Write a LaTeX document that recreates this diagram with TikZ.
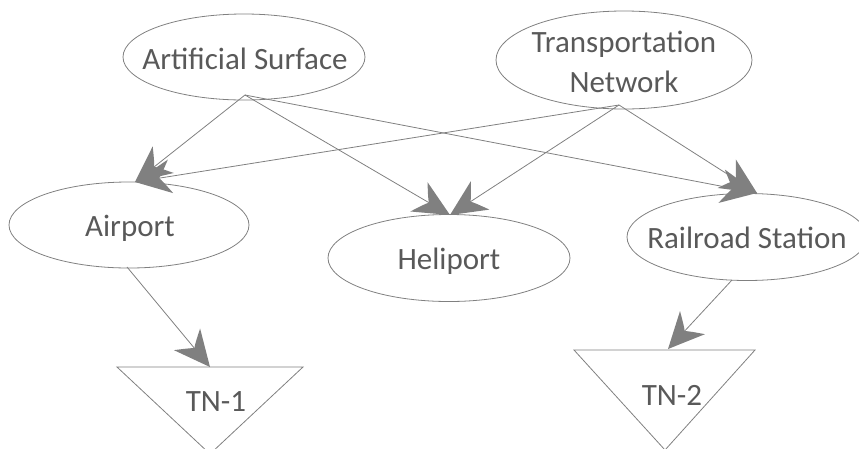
\documentclass[tikz,border=0pt]{standalone}
\usepackage{fontspec}
\setmainfont{Carlito}
\usetikzlibrary{arrows.meta,shapes.geometric}

% Filled arrow head with a concave, swept-back rear edge
\pgfdeclarearrow{
  name = Swept,
  parameters = {\the\pgfarrowlength,\the\pgfarrowwidth},
  setup code = {
    \pgfarrowssettipend{0pt}
    \pgfarrowssetlineend{-0.6\pgfarrowlength}
    \pgfarrowssetbackend{-\pgfarrowlength}
    \pgfarrowssetvisualbackend{-0.6\pgfarrowlength}
    \pgfarrowssavethe\pgfarrowlength
    \pgfarrowssavethe\pgfarrowwidth
  },
  drawing code = {
    \pgfpathmoveto{\pgfqpoint{0pt}{0pt}}
    \pgfpathlineto{\pgfqpoint{-\pgfarrowlength}{0.5\pgfarrowwidth}}
    \pgfpathcurveto{\pgfqpoint{-0.85\pgfarrowlength}{0.25\pgfarrowwidth}}{\pgfqpoint{-0.75\pgfarrowlength}{0.08\pgfarrowwidth}}{\pgfqpoint{-0.68\pgfarrowlength}{0pt}}
    \pgfpathcurveto{\pgfqpoint{-0.75\pgfarrowlength}{-0.08\pgfarrowwidth}}{\pgfqpoint{-0.85\pgfarrowlength}{-0.25\pgfarrowwidth}}{\pgfqpoint{-\pgfarrowlength}{-0.5\pgfarrowwidth}}
    \pgfpathclose
    \pgfusepathqfill
  },
  defaults = {length = 36pt, width = 34pt}
}

\definecolor{edgegray}{HTML}{808080}
\definecolor{textgray}{HTML}{595959}

\tikzset{
  concept/.style={ellipse, draw=edgegray, line width=0.8pt, inner sep=0pt},
  conceptlabel/.style={text=textgray, font=\fontsize{31}{40}\selectfont,
    align=center, inner sep=0pt},
  link/.style={draw=edgegray, line width=0.8pt, -{Swept[fill=edgegray]}},
  tri/.style={draw=edgegray, line width=0.8pt},
  trilabel/.style={text=textgray, font=\fontsize{31}{40}\selectfont, inner sep=0pt}
}

\begin{document}
\begin{tikzpicture}[x=1pt, y=-1pt]
\useasboundingbox (0,0) rectangle (859,448);
\clip (0,0) rectangle (859,448);

% concept ellipses, labels placed independently of the outline size
\node[concept, minimum width=242pt, minimum height=86pt] (as) at (244,57) {};
\node[conceptlabel] (as-text) at (245,59) {Artificial Surface};

\node[concept, minimum width=256pt, minimum height=98pt] (tn) at (624,60) {};
\node[conceptlabel] (tn-text) at (624,62) {Transportation\\Network};

\node[concept, minimum width=240pt, minimum height=86pt] (ap) at (129,225) {};
\node[conceptlabel] (ap-text) at (130,228) {Airport};

\node[concept, minimum width=242pt, minimum height=87pt] (hp) at (449,258) {};
\node[conceptlabel] (hp-text) at (449,261) {Heliport};

\node[concept, minimum width=240pt, minimum height=87pt] (rs) at (747,237) {};
\node[conceptlabel] (rs-text) at (747,238) {Railroad Station};

% inverted triangles
\coordinate (t1l) at (117,367);
\coordinate (t1r) at (303,367);
\coordinate (t1b) at (210,454);
\draw[tri] (t1l) -- (t1r) -- (t1b) -- cycle;
\node[trilabel] (tn1) at (216,402) {TN-1};

\coordinate (t2l) at (574,350);
\coordinate (t2r) at (755,350);
\coordinate (t2b) at (665,450);
\draw[tri] (t2l) -- (t2r) -- (t2b) -- cycle;
\node[trilabel] (tn2) at (672,395) {TN-2};

% connector end points
\coordinate (as-out) at (245,95);
\coordinate (tn-out) at (619,105);
\coordinate (ap-in) at (135,182);
\coordinate (hp-in) at (450,215);
\coordinate (rs-in) at (757,193);
\coordinate (ap-out) at (127,267);
\coordinate (rs-out) at (732,280);
\coordinate (tn1-in) at (210,367);
\coordinate (tn2-in) at (668,349);

% connectors
\draw[link] (as-out) -- (ap-in);
\draw[link] (as-out) -- (hp-in);
\draw[link] (as-out) -- (rs-in);
\draw[link] (tn-out) -- (ap-in);
\draw[link] (tn-out) -- (hp-in);
\draw[link] (tn-out) -- (rs-in);
\draw[link] (ap-out) -- (tn1-in);
\draw[link] (rs-out) -- (tn2-in);
\end{tikzpicture}
\end{document}
